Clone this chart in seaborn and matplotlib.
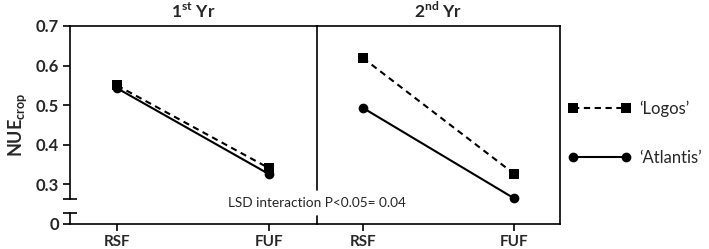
import matplotlib
matplotlib.use("Agg")
import matplotlib.pyplot as plt
from matplotlib.lines import Line2D
import seaborn as sns
import pandas as pd

# ---- data ----
treatments = ["RSF", "FUF"]
years = ["1st Yr", "2nd Yr"]
logos_y1 = [0.550, 0.341]
atlantis_y1 = [0.543, 0.326]
logos_y2 = [0.619, 0.327]
atlantis_y2 = [0.493, 0.265]
cultivars = ["Logos", "Atlantis"]
legend_labels = ["\u2018Logos\u2019", "\u2018Atlantis\u2019"]
y_ticks = [0.2, 0.3, 0.4, 0.5, 0.6, 0.7]
y_ticklabels = ["0", "0.3", "0.4", "0.5", "0.6", "0.7"]
lsd_text = "LSD interaction P<0.05= 0.04"

sns.set_theme(style="white")
plt.rcParams["font.family"] = ["Lato", "DejaVu Sans"]
plt.rcParams["mathtext.fontset"] = "custom"
plt.rcParams["mathtext.rm"] = "Lato"
plt.rcParams["mathtext.bf"] = "Lato:bold"

def frame(vals_logos, vals_atl):
    return pd.DataFrame({
        "treatment": treatments * 2,
        "NUE": list(vals_logos) + list(vals_atl),
        "cultivar": [cultivars[0]] * 2 + [cultivars[1]] * 2,
    })

dfs = [frame(logos_y1, atlantis_y1), frame(logos_y2, atlantis_y2)]

fig = plt.figure(figsize=(7.09, 2.49), dpi=100)
gs = fig.add_gridspec(1, 2, left=70/709, right=560/709, top=1-26/249, bottom=1-224/249,
                      wspace=0, width_ratios=[247, 243])
ax1 = fig.add_subplot(gs[0])
ax2 = fig.add_subplot(gs[1], sharey=ax1)
ax1.set_facecolor("none")
ax2.set_facecolor("none")

markers = {"Logos": "s", "Atlantis": "o"}
dashes = {"Logos": (3, 2.2), "Atlantis": ""}
palette = {"Logos": "black", "Atlantis": "black"}

for ax, df in zip([ax1, ax2], dfs):
    sns.lineplot(data=df, x="treatment", y="NUE", hue="cultivar", style="cultivar",
                 markers=markers, dashes=dashes, palette=palette, ax=ax,
                 linewidth=1.5, markersize=7, markeredgewidth=0, legend=False, sort=False)
    ax.set_xlabel("")
    ax.set_ylabel("")
    for s in ax.spines.values():
        s.set_color("black")
        s.set_linewidth(1.2)
    ax.tick_params(axis="x", direction="out", length=5, width=1.2, color="black",
                   labelsize=11, pad=3, bottom=True)
    for lab in ax.get_xticklabels():
        lab.set_fontweight("bold")

ax1.set_xlim(-0.309, 1.316)
ax2.set_xlim(-0.305, 1.305)
ax1.set_ylim(0.2, 0.7)
ax1.set_yticks(y_ticks)
ax1.set_yticklabels(y_ticklabels, fontweight="bold", fontsize=12)
ax1.tick_params(axis="y", direction="out", length=5, width=1.2, color="black", left=True, pad=3)
ax2.tick_params(axis="y", left=False, labelleft=False)

# spines
ax1.spines["right"].set_visible(False)
ax2.spines["left"].set_visible(False)
ax1.spines["left"].set_bounds(0.262, 0.7)
# lower stub of broken y axis and caps
ax1.plot([0, 0], [0.2, 0.227], color="black", lw=1.2, transform=ax1.get_yaxis_transform(), clip_on=False)
for yv in [0.262, 0.227]:
    ax1.plot([0], [yv], marker="_", ms=10, mew=1.2, color="black",
             transform=ax1.get_yaxis_transform(), clip_on=False)
# divider between years, with a gap for the LSD text
ax1.plot([1, 1], [0.172, 1], color="black", lw=1.2, transform=ax1.transAxes, clip_on=False)
ax1.plot([1, 1], [0, 0.04], color="black", lw=1.2, transform=ax1.transAxes, clip_on=False)

fig.text(317/709, 1-203/249, lsd_text, ha="center", va="center", fontsize=9.8, zorder=10)

ax1.set_title(r"1$^{\mathbf{st}}$ Yr", fontweight="bold", fontsize=12.5, pad=6)
ax2.set_title(r"2$^{\mathbf{nd}}$ Yr", fontweight="bold", fontsize=12.5, pad=6)
ax1.set_ylabel(r"NUE$_{\mathbf{crop}}$", fontweight="bold", fontsize=13, labelpad=5)

handles = [
    Line2D([], [], color="black", lw=1.5, ls=(0, dashes["Logos"]), marker="s", ms=7, mew=0),
    Line2D([], [], color="black", lw=1.5, ls="-", marker="o", ms=7, mew=0),
]
fig.legend(handles, legend_labels, loc="center left", bbox_to_anchor=(553/709, 1-133/249),
           frameon=False, numpoints=2, handlelength=3.8, handletextpad=0.5,
           labelspacing=2.0, fontsize=12)

fig.savefig("out.png", dpi=100)
